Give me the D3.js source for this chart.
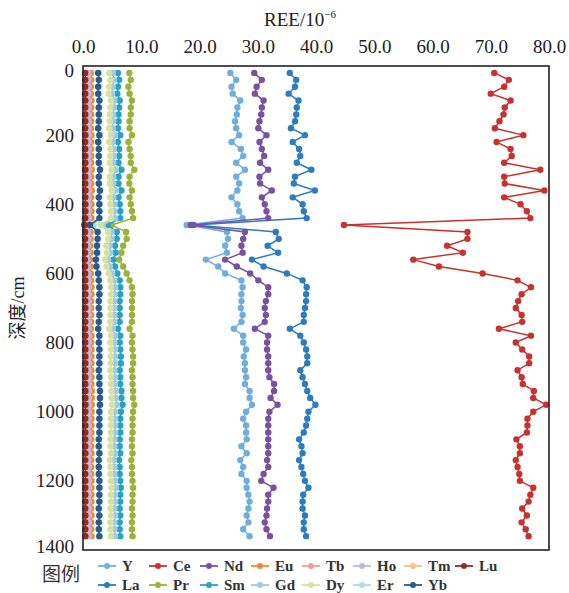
<!DOCTYPE html>
<html><head><meta charset="utf-8">
<script src="https://cdn.jsdelivr.net/npm/d3@7"></script>
<style>
html,body{margin:0;padding:0;background:#fff;}
svg{display:block;}
.serif{font-family:"Liberation Serif","DejaVu Serif","Times New Roman",serif;}
.cjk{font-family:"Noto Sans CJK SC","Noto Sans CJK JP",sans-serif;}
</style></head>
<body>
<svg id="chart" width="569" height="593"></svg>
<script>
// ---------- DATA ----------
const depths = [20,40,60,80,100,120,140,160,180,200,220,240,260,280,300,320,340,360,380,400,420,440,460,480,500,520,540,560,580,600,620,640,660,680,700,720,740,760,780,800,820,840,860,880,900,920,940,960,980,1000,1020,1040,1060,1080,1100,1120,1140,1160,1180,1200,1220,1240,1260,1280,1300,1320,1340,1360];
const seriesNames = ["Y","La","Ce","Pr","Nd","Sm","Eu","Gd","Tb","Dy","Ho","Er","Tm","Yb","Lu"];
const xTicks = [0,10,20,30,40,50,60,70,80];
const yTicks = [0,200,400,600,800,1000,1200,1400];

const Y  = [25.3,26.3,25.5,25.7,27.0,26.5,26.4,26.1,26.3,26.8,25.5,27.1,27.5,26.3,27.8,26.3,26.8,26.5,25.5,26.5,26.8,27.4,17.8,24.7,24.9,24.4,24.7,21.1,23.2,24.4,27.2,27.4,27.2,27.2,27.1,27.4,27.2,25.9,27.5,27.5,28.0,27.6,27.8,27.8,28.0,27.8,28.6,28.6,29.0,28.0,27.5,28.0,28.0,28.1,27.2,28.1,27.0,27.5,27.2,28.1,28.1,28.4,28.6,28.4,28.1,28.4,27.5,28.6];
const La = [35.5,36.6,36.4,35.3,37.0,36.7,36.6,36.4,35.7,38.1,36.0,37.1,37.3,36.7,39.2,36.4,36.2,39.8,36.0,37.7,37.9,38.4,19.0,33.1,33.6,31.7,33.5,29.0,31.0,35.0,37.7,38.4,38.3,38.3,38.1,37.9,37.9,35.5,37.3,37.9,38.3,38.5,38.5,37.3,37.7,38.1,38.5,39.0,39.9,38.7,38.5,38.3,37.9,37.1,37.5,37.7,37.1,37.5,37.8,38.1,38.7,37.8,37.7,37.7,38.1,37.9,37.9,38.3];
const Ce = [70.6,73.1,72.3,70.0,73.4,72.4,72.2,71.5,70.7,75.6,71.0,73.4,73.6,72.3,78.5,72.3,72.4,79.2,72.3,75.1,76.2,76.8,44.8,66.0,66.0,62.5,65.2,56.7,61.1,68.6,74.6,76.9,75.3,74.7,74.3,75.3,75.4,71.4,76.9,74.3,75.4,76.6,76.6,74.6,75.3,75.5,77.4,77.3,79.5,77.3,76.3,76.3,76.2,74.4,75.0,75.0,74.3,74.6,74.9,75.0,77.3,76.8,76.5,75.4,76.2,75.3,76.0,76.5];
const Pr = [7.95,8.2,7.8,8.0,8.4,8.2,8.2,8.0,8.0,8.4,7.8,8.0,8.2,8.2,8.8,8.0,7.95,8.4,8.0,8.2,8.4,8.6,4.9,7.4,7.5,6.9,6.6,6.2,6.9,7.5,8.0,8.4,8.5,8.4,8.4,8.4,8.4,8.0,8.5,8.4,8.5,8.6,8.6,8.4,8.5,8.5,8.6,8.6,8.8,8.6,8.5,8.5,8.5,8.4,8.4,8.5,8.3,8.4,8.4,8.5,8.6,8.5,8.5,8.4,8.5,8.4,8.4,8.5];
const Nd = [29.4,30.7,29.8,29.5,31.0,30.7,30.6,30.3,30.1,31.5,30.3,30.7,31.1,30.4,31.8,30.3,30.4,32.4,30.7,31.2,31.5,31.8,18.5,27.8,27.5,27.2,27.4,24.4,26.4,28.7,30.1,31.8,31.8,31.4,31.2,31.4,31.2,29.5,31.8,31.6,31.6,31.8,31.8,31.8,32.0,32.8,32.8,32.2,33.4,32.0,31.8,31.8,31.8,31.8,31.8,31.8,31.6,31.8,31.0,30.6,32.7,31.8,31.8,31.6,31.5,31.2,31.5,32.1];
const Sm = [6.0,6.2,6.0,5.9,6.3,6.2,6.1,6.1,6.0,6.4,6.0,6.2,6.2,6.1,6.6,6.1,6.1,6.6,6.1,6.3,6.4,6.4,4.2,5.8,5.8,5.5,5.6,5.2,5.5,5.9,6.3,6.4,6.4,6.3,6.3,6.3,6.3,6.0,6.4,6.3,6.4,6.5,6.5,6.3,6.4,6.4,6.6,6.6,6.8,6.5,6.4,6.4,6.4,6.3,6.3,6.4,6.2,6.3,6.3,6.4,6.5,6.4,6.4,6.3,6.4,6.3,6.3,6.4];
const Eu = [1.35,1.4,1.35,1.35,1.45,1.4,1.4,1.4,1.35,1.45,1.35,1.4,1.4,1.4,1.5,1.4,1.4,1.5,1.4,1.45,1.45,1.45,0.9,1.3,1.3,1.25,1.3,1.2,1.25,1.35,1.4,1.45,1.45,1.4,1.4,1.4,1.4,1.35,1.45,1.4,1.45,1.45,1.45,1.4,1.45,1.45,1.5,1.5,1.5,1.45,1.45,1.45,1.45,1.4,1.4,1.45,1.4,1.4,1.4,1.45,1.45,1.45,1.45,1.4,1.45,1.4,1.4,1.45];
const Gd = [5.1,5.3,5.1,5.0,5.4,5.3,5.2,5.2,5.1,5.5,5.1,5.3,5.3,5.2,5.6,5.2,5.2,5.6,5.2,5.4,5.4,5.5,3.4,4.9,4.9,4.6,4.7,4.3,4.6,5.0,5.4,5.5,5.4,5.4,5.4,5.4,5.4,5.1,5.5,5.4,5.5,5.5,5.5,5.4,5.5,5.5,5.6,5.6,5.8,5.5,5.5,5.5,5.5,5.4,5.4,5.5,5.3,5.4,5.4,5.5,5.6,5.5,5.5,5.4,5.5,5.4,5.4,5.5];
const Tb = [0.82,0.86,0.82,0.8,0.88,0.86,0.85,0.85,0.82,0.88,0.82,0.86,0.86,0.85,0.9,0.85,0.85,0.9,0.85,0.87,0.88,0.88,0.5,0.8,0.8,0.75,0.77,0.7,0.75,0.82,0.86,0.88,0.88,0.86,0.86,0.86,0.86,0.82,0.88,0.86,0.88,0.88,0.88,0.86,0.88,0.88,0.9,0.9,0.92,0.88,0.88,0.88,0.88,0.86,0.86,0.88,0.85,0.86,0.86,0.88,0.9,0.88,0.88,0.86,0.88,0.86,0.86,0.88];
const Dy = [4.5,4.7,4.5,4.4,4.8,4.7,4.6,4.6,4.5,4.8,4.5,4.7,4.7,4.6,4.9,4.6,4.6,4.9,4.6,4.7,4.8,4.8,3.0,4.3,4.3,4.0,4.1,3.8,4.0,4.4,4.7,4.8,4.8,4.7,4.7,4.7,4.7,4.5,4.8,4.7,4.8,4.8,4.8,4.7,4.8,4.8,4.9,4.9,5.0,4.8,4.8,4.8,4.8,4.7,4.7,4.8,4.6,4.7,4.7,4.8,4.9,4.8,4.8,4.7,4.8,4.7,4.7,4.8];
const Ho = [0.96,1.0,0.96,0.95,1.03,1.0,0.99,0.99,0.96,1.03,0.96,1.0,1.0,0.99,1.05,0.99,0.99,1.05,0.99,1.01,1.02,1.02,0.6,0.93,0.93,0.88,0.9,0.82,0.88,0.95,1.0,1.02,1.02,1.0,1.0,1.0,1.0,0.96,1.02,1.0,1.02,1.03,1.03,1.0,1.02,1.02,1.05,1.05,1.07,1.03,1.02,1.02,1.02,1.0,1.0,1.02,0.99,1.0,1.0,1.02,1.04,1.02,1.02,1.0,1.02,1.0,1.0,1.02];
const Er = [2.7,2.8,2.7,2.7,2.9,2.8,2.8,2.8,2.7,2.9,2.7,2.8,2.8,2.8,3.0,2.8,2.8,3.0,2.8,2.9,2.9,2.9,1.8,2.6,2.6,2.4,2.5,2.3,2.4,2.7,2.8,2.9,2.9,2.8,2.8,2.9,2.8,2.7,2.9,2.8,2.9,2.9,2.9,2.8,2.9,2.9,3.0,3.0,3.0,2.9,2.9,2.9,2.9,2.8,2.8,2.9,2.8,2.8,2.8,2.9,2.9,2.9,2.9,2.8,2.9,2.8,2.8,2.9];
const Tm = [0.4,0.42,0.4,0.4,0.43,0.42,0.42,0.42,0.4,0.43,0.4,0.42,0.42,0.42,0.44,0.42,0.42,0.44,0.42,0.43,0.43,0.43,0.26,0.39,0.39,0.37,0.38,0.35,0.37,0.4,0.42,0.43,0.43,0.42,0.42,0.42,0.42,0.4,0.43,0.42,0.43,0.43,0.43,0.42,0.43,0.43,0.44,0.44,0.45,0.43,0.43,0.43,0.43,0.42,0.42,0.43,0.42,0.42,0.42,0.43,0.43,0.43,0.43,0.42,0.43,0.42,0.42,0.43];
const Yb = [2.6,2.7,2.6,2.6,2.8,2.7,2.7,2.7,2.6,2.8,2.6,2.7,2.7,2.7,2.9,2.7,2.7,2.9,2.7,2.8,2.8,2.8,1.2,2.5,2.5,2.4,2.4,2.2,2.3,2.6,2.7,2.8,2.8,2.7,2.7,2.8,2.7,2.6,2.8,2.7,2.8,2.8,2.8,2.7,2.8,2.8,2.9,2.9,2.9,2.8,2.8,2.8,2.8,2.7,2.7,2.8,2.7,2.7,2.7,2.8,2.8,2.8,2.8,2.7,2.8,2.7,2.7,2.8];
const Lu = [0.38,0.4,0.38,0.38,0.41,0.4,0.4,0.4,0.38,0.41,0.38,0.4,0.4,0.4,0.42,0.4,0.4,0.42,0.4,0.41,0.41,0.41,0.24,0.37,0.37,0.35,0.36,0.33,0.35,0.38,0.4,0.41,0.41,0.4,0.4,0.4,0.4,0.38,0.41,0.4,0.41,0.41,0.41,0.4,0.41,0.41,0.42,0.42,0.43,0.41,0.41,0.41,0.41,0.4,0.4,0.41,0.4,0.4,0.4,0.41,0.41,0.41,0.41,0.4,0.41,0.4,0.4,0.41];

const seriesValues = {Y, La, Ce, Pr, Nd, Sm, Eu, Gd, Tb, Dy, Ho, Er, Tm, Yb, Lu};
const colors = {
  Y:"#6EAEDC", La:"#2C7CC0", Ce:"#C8312E", Pr:"#9AB13A", Nd:"#7A50A0",
  Sm:"#26A3C4", Eu:"#F0862C", Gd:"#A2C8E8", Tb:"#EE9F9C", Dy:"#D6E29E",
  Ho:"#C3B7DB", Er:"#AADDE6", Tm:"#F8C38D", Yb:"#2B5B8A", Lu:"#8C2A2E"
};

// ---------- LAYOUT ----------
const svg = d3.select("#chart");
const P = {left:83, right:549, top:66, bottom:550};

const x = d3.scaleLinear().domain([0,80]).range([P.left,P.right]);
const y = d3.scaleLinear().domain([0,1400]).range([P.top,P.bottom]);

// title
const t = svg.append("text").attr("class","serif").attr("x",300).attr("y",26).attr("text-anchor","middle")
  .attr("font-size",19).attr("fill","#222");
t.append("tspan").text("REE/10");
t.append("tspan").attr("font-size",11).attr("dy",-8).text("−6");

// y title
svg.append("text")
  .attr("transform","translate(24,"+((P.top+P.bottom)/2)+") rotate(-90)")
  .attr("text-anchor","middle").attr("font-size",18).attr("fill","#222")
  .call(s=>{
    s.append("tspan").attr("class","cjk").text("深度");
    s.append("tspan").attr("class","serif").text("/cm");
  });

// axes
const gx = svg.append("g").attr("transform","translate(0,"+P.top+")")
  .call(d3.axisTop(x).tickValues(xTicks).tickFormat(d3.format(".1f")).tickSize(0).tickPadding(13));
gx.attr("font-family",null).attr("font-size",null);
gx.select(".domain").remove();
gx.selectAll("text").attr("class","serif").attr("font-size",19).attr("fill","#222");

const gy = svg.append("g").attr("transform","translate("+P.left+",0)")
  .call(d3.axisLeft(y).tickValues(yTicks).tickFormat(d3.format("d")).tickSize(0).tickPadding(9));
gy.attr("font-family",null).attr("font-size",null);
gy.select(".domain").remove();
gy.selectAll("text").attr("class","serif").attr("font-size",19).attr("fill","#222")
  .attr("dy",(d)=> d===0 ? "0.55em" : (d===1400 ? "0.12em" : "0.32em"));

// series
const plot = svg.append("g");
seriesNames.forEach(name=>{
  const vals = seriesValues[name];
  const pts = depths.map((d,i)=>[vals[i], d]);
  const line = d3.line().x(p=>x(p[0])).y(p=>y(p[1]));
  const g = plot.append("g");
  g.append("path").attr("d",line(pts)).attr("fill","none")
    .attr("stroke",colors[name]).attr("stroke-width",1.5);
  g.selectAll("circle").data(pts).join("circle")
    .attr("cx",p=>x(p[0])).attr("cy",p=>y(p[1])).attr("r",3.2)
    .attr("fill",colors[name]);
});

// frame
svg.append("rect").attr("x",P.left).attr("y",P.top)
  .attr("width",P.right-P.left).attr("height",P.bottom-P.top)
  .attr("fill","none").attr("stroke","#222").attr("stroke-width",1.6);

// legend
svg.append("text").attr("class","cjk").attr("x",42).attr("y",581)
  .attr("font-size",19).attr("fill","#333").text("图例");
const lg = svg.append("g");
seriesNames.forEach((name,i)=>{
  const col = Math.floor(i/2), row = i%2;
  const lx = 98 + col*51, ly = row===0 ? 566 : 585;
  lg.append("line").attr("x1",lx).attr("x2",lx+18).attr("y1",ly).attr("y2",ly)
    .attr("stroke",colors[name]).attr("stroke-width",1.8);
  lg.append("circle").attr("cx",lx+9).attr("cy",ly).attr("r",3).attr("fill",colors[name]);
  lg.append("text").attr("class","serif").attr("x",lx+24).attr("y",ly+5)
    .attr("font-weight","bold").attr("font-size",15).attr("fill","#333").text(name);
});
</script>
</body></html>
